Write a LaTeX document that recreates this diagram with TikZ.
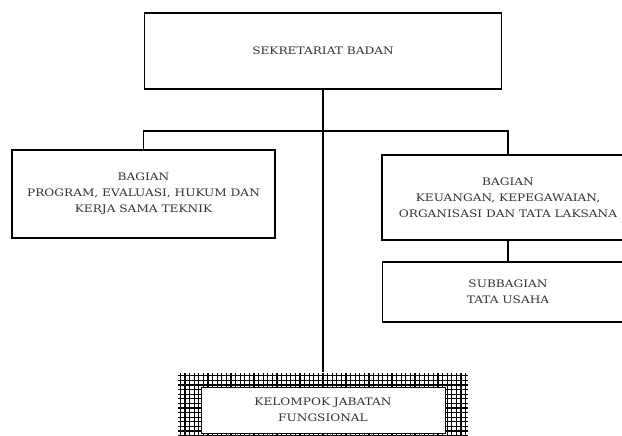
\documentclass[tikz,border=0pt]{standalone}
\usepackage{fontspec}
\setmainfont{DejaVu Serif}[FakeStretch=1.18]
\begin{document}
\begin{tikzpicture}[x=1pt,y=-1pt,line width=1.6pt,
	font=\fontsize{10.3}{16}\selectfont,
	kotak/.style={draw,align=center,text=black!80,fill=white,inner sep=0pt},
	arsir/.style={inner sep=0pt,path picture={\draw[line width=1.3pt] (path picture bounding box.south west) grid[step=4.6pt] (path picture bounding box.north east);}}]
	\useasboundingbox (0,0) rectangle (622,436);
	\node[kotak,minimum width=357,minimum height=76] (sekretariat) at (323,51) {SEKRETARIAT BADAN};
	\node[kotak,minimum width=263,minimum height=88] (bagianprog) at (143.5,194) {BAGIAN\\PROGRAM, EVALUASI, HUKUM DAN\\KERJA SAMA TEKNIK};
	\node[kotak,minimum width=252,minimum height=85] (bagiankeu) at (508,197.5) {BAGIAN\\KEUANGAN, KEPEGAWAIAN,\\ORGANISASI DAN TATA LAKSANA};
	\node[kotak,minimum width=251,minimum height=60] (subbagian) at (508,292) {SUBBAGIAN\\TATA USAHA};
	\node[arsir,minimum width=290,minimum height=70] (bingkai) at (323,408) {};
	\node[kotak,line width=1pt,draw=blue!30!black,minimum width=244,minimum height=46] (fungsional) at (323,410) {KELOMPOK JABATAN\\FUNGSIONAL};
	\coordinate (cabang) at (323,131);
	\draw (sekretariat.south) -- (bingkai.north)
		(bagianprog.north) |- (cabang) -| (bagiankeu.north)
		(bagiankeu.south) -- (subbagian.north);
\end{tikzpicture}
\end{document}
